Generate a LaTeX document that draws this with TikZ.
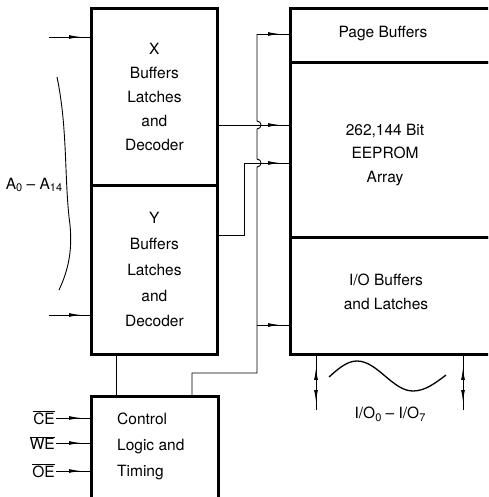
\documentclass[tikz,border=0pt]{standalone}
\usepackage{fontspec}
\setmainfont{TeX Gyre Heros}
\usepackage{tikz}
\usetikzlibrary{arrows.meta,positioning,calc,decorations.markings}
\newcommand{\lo}[1]{\raisebox{-0.35ex}{\fontsize{11}{11}\selectfont #1}}
\newcommand{\negsig}[1]{$\overline{\hbox{#1}}$}

\begin{document}
\begin{tikzpicture}[x=1pt,y=-1pt,
  font=\fontsize{15.5}{24}\selectfont,
  blk/.style={rectangle, draw=black, line width=2.8pt, inner sep=0pt, anchor=north west, align=center},
  wire/.style={line width=0.9pt},
  arrat/.style={wire, postaction={decorate, decoration={markings, mark=at position #1 with {\arrow{Latex[length=12pt,width=3.8pt]}}}}},
  arrat/.default=-9pt,
  bidir/.style={wire, postaction={decorate, decoration={markings,
      mark=at position 12pt with {\arrowreversed{Latex[length=12pt,width=3.8pt]}},
      mark=at position -8pt with {\arrow{Latex[length=12pt,width=3.8pt]}}}}},
  txt/.style={align=center, inner sep=0pt}]
\useasboundingbox (0,0) rectangle (488,497);
\clip (0,0) rectangle (488,497);

% left column
\node[blk, minimum width=126pt, minimum height=177pt] (xbox) at (90,7) {X\\Buffers\\Latches\\and\\Decoder};
\node[blk, minimum width=126pt, minimum height=169pt, font=\fontsize{15.5}{25.75}\selectfont] (ybox) at (90,184) {Y\\Buffers\\Latches\\and\\Decoder};
\node[blk, minimum width=127pt, minimum height=140pt] (ctrl) at (90,395) {};
\node[txt, align=left, anchor=west, font=\fontsize{15.5}{26}\selectfont] (ctxt) at (117,446) {Control\\Logic and\\Timing};

% right column
\node[blk, minimum width=240pt, minimum height=54pt] (page) at (289,7) {};
\node[blk, minimum width=240pt, minimum height=175pt] (array) at (289,61) {};
\node[blk, minimum width=240pt, minimum height=117pt] (iob) at (289,236) {};
\node[txt] (ptxt) at (383,34) {Page Buffers};
\node[txt, font=\fontsize{15.5}{23.5}\selectfont] (atxt) at (385,155) {262,144 Bit\\EEPROM\\Array};
\node[txt] (itxt) at (386,292) {I/O Buffers\\and Latches};

% address inputs
\coordinate (xa) at (49,37);
\coordinate (ya) at (49,315);
\draw[arrat] (xa) -- (xa -| xbox.west);
\draw[arrat] (ya) -- (ya -| ybox.west);
\draw[wire] (57,77) .. controls (68,130) and (64,180) .. (70,225) .. controls (73,255) and (66,275) .. (59,290);
\node (addr) at (34,185) {A\lo{0} -- A\lo{14}};

% control inputs
\node[anchor=east, inner sep=1pt] (ce) at (56,418) {\negsig{CE}};
\node[anchor=east, inner sep=1pt] (we) at (56,443) {\negsig{WE}};
\node[anchor=east, inner sep=1pt] (oe) at (56,471) {\negsig{OE}};
\foreach \s in {ce,we,oe}
  \draw[arrat] (\s.east) -- (\s.east -| ctrl.west);

% decoders to array
\draw[arrat] (xbox.east |- 0,125) -- (array.west |- 0,125);
\draw[arrat] (ybox.east |- 0,235) -- (244,235) -- (244,163) -- (array.west |- 0,163);
\draw[wire] (116,0 |- ybox.south) -- (116,0 |- ctrl.north);

% control bus
\draw[wire] (257,34) -- (257,121) .. controls (262.3,121) and (262.3,129) .. (257,129)
  -- (257,159) .. controls (262.3,159) and (262.3,167) .. (257,167)
  -- (257,373) -- (192,373) -- (192,0 |- ctrl.north);
\draw[arrat] (257,34) -- (page.west |- 0,34);
\draw[arrat] (257,325) -- (iob.west |- 0,325);

% data lines
\coordinate (d0) at (316,410);
\coordinate (d7) at (463,410);
\draw[bidir] (d0 |- iob.south) -- (d0);
\draw[bidir] (d7 |- iob.south) -- (d7);
\draw[wire, line width=1.3pt] (329,377) sin (357,361) cos (385,376) sin (413,391) cos (446,375);
\node (iolab) at (390,414) {I/O\lo{0} -- I/O\lo{7}};
\end{tikzpicture}
\end{document}
